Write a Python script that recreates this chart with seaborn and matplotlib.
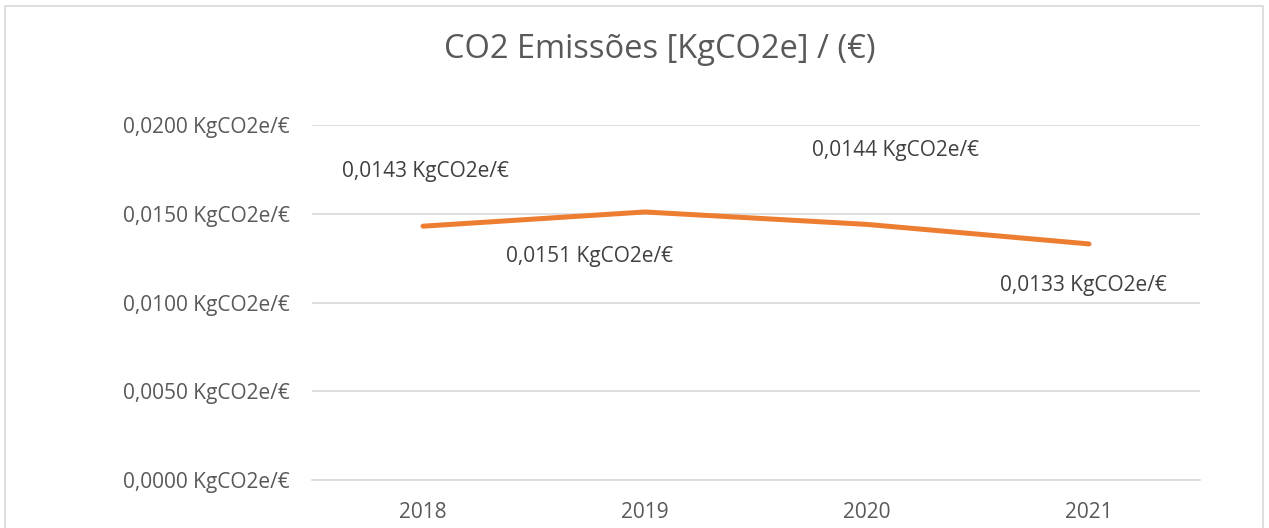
import matplotlib
matplotlib.use("Agg")
import matplotlib.pyplot as plt
import matplotlib.patches as patches
import seaborn as sns
import pandas as pd

YEARS  = ["2018", "2019", "2020", "2021"]
VALUES = [0.0143, 0.0151, 0.0144, 0.0133]
Y_TICKS = [0.0, 0.005, 0.010, 0.015, 0.020]
# label offsets (pixels) relative to each point, as placed in the original chart
LABEL_OFFSETS = [(2, 55), (-55, -45), (28, 74), (-6, -42)]

TITLE      = "CO2 Emissões [KgCO2e] / (€)"
LINE_COLOR = "#ED7D31"
TEXT_COLOR = "#595959"
GRID_COLOR = "#D9D9D9"


def fmt(v):
    return f"{v:.4f}".replace(".", ",") + " KgCO2e/€"


sns.set_theme(style="white")
plt.rcParams["font.family"] = ["Open Sans", "DejaVu Sans"]

df = pd.DataFrame({"year": YEARS, "value": VALUES})

fig = plt.figure(figsize=(12.69, 5.28), dpi=100)
ax = fig.add_axes([312 / 1269, 48 / 528, 888 / 1269, 355 / 528])

sns.lineplot(data=df, x="year", y="value", ax=ax, color=LINE_COLOR,
             linewidth=3.6, solid_capstyle="round", solid_joinstyle="round")

ax.set_xlim(-0.5, len(YEARS) - 0.5)
ax.set_ylim(0, 0.02)
ax.set_yticks(Y_TICKS)
ax.set_yticklabels([fmt(t) for t in Y_TICKS])
ax.yaxis.grid(True, color=GRID_COLOR, linewidth=1.2)
ax.set_axisbelow(True)
for s in ["top", "right", "left"]:
    ax.spines[s].set_visible(False)
ax.spines["bottom"].set_color(GRID_COLOR)
ax.spines["bottom"].set_linewidth(1.2)
ax.tick_params(axis="both", length=0, labelsize=15, labelcolor=TEXT_COLOR)
ax.tick_params(axis="y", pad=16)
ax.tick_params(axis="x", pad=16)
ax.set_xlabel(""); ax.set_ylabel("")

for i, (v, off) in enumerate(zip(VALUES, LABEL_OFFSETS)):
    ax.annotate(fmt(v), (i, v), xytext=off, textcoords="offset pixels",
                ha="center", va="center", fontsize=15, color="#404040")

fig.text(660 / 1269, 1 - 50 / 528, TITLE, ha="center", va="center",
         fontsize=23.5, color=TEXT_COLOR)

# outer chart frame (bottom edge falls outside the image)
fig.patches.append(patches.Rectangle((5 / 1269, -0.1), 1258 / 1269, 1.1 - 6 / 528,
                                     transform=fig.transFigure, fill=False,
                                     edgecolor=GRID_COLOR, linewidth=1.2))

fig.savefig("out.png", dpi=100, facecolor="white")
